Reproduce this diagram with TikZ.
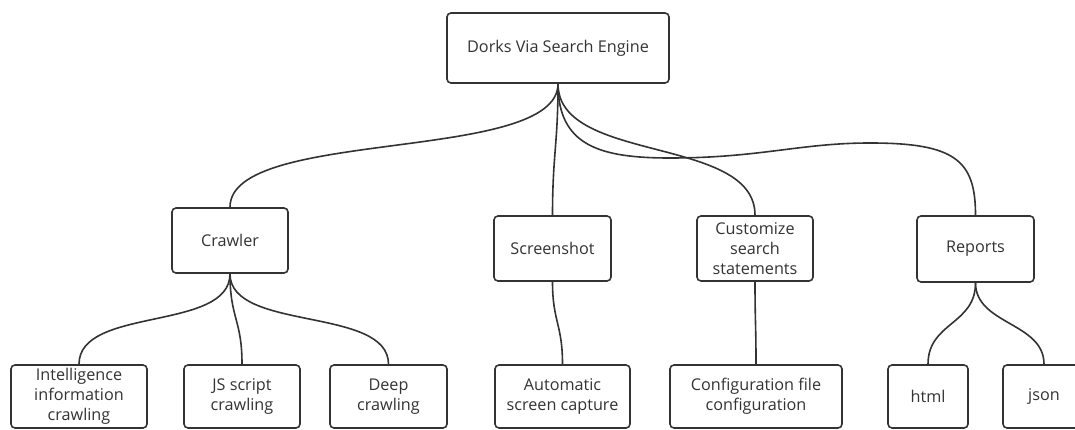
\documentclass[tikz,border=0pt]{standalone}
\usepackage{fontspec}
\setmainfont{Open Sans}
\definecolor{ink}{HTML}{333333}
\tikzset{
    box/.style={draw=ink, line width=1.6pt, rounded corners=4pt, align=center, text=ink,
        inner sep=0pt, font=\fontsize{16.2}{20}\selectfont},
    conn/.style={draw=ink, line width=1.6pt,
        to path={.. controls +(0,#1) and +(0,-#1) .. (\tikztotarget)}},
    conn/.default=50
}
\begin{document}
\begin{tikzpicture}[x=1pt,y=-1pt]
    \useasboundingbox (0,0) rectangle (1075,430);
    \node[box, minimum width=222pt, minimum height=70pt] (root) at (558,48) {Dorks Via Search Engine};
    \node[box, minimum width=116pt, minimum height=65pt] (crawler) at (230,240.5) {Crawler};
    \node[box, minimum width=117pt, minimum height=65pt] (shot) at (552.5,248.5) {Screenshot};
    \node[box, minimum width=116pt, minimum height=65pt] (custom) at (755,248.5) {Customize\\search\\statements};
    \node[box, minimum width=117pt, minimum height=66pt] (reports) at (975.5,249) {Reports};
    \node[box, minimum width=136pt, minimum height=63pt] (intel) at (79,396.5) {Intelligence\\information\\crawling};
    \node[box, minimum width=116pt, minimum height=63pt] (js) at (242,396.5) {JS script\\crawling};
    \node[box, minimum width=117pt, minimum height=63pt] (deep) at (388.5,396.5) {Deep\\crawling};
    \node[box, minimum width=135pt, minimum height=63pt] (capture) at (562.5,396.5) {Automatic\\screen capture};
    \node[box, minimum width=172pt, minimum height=63pt] (config) at (756,396.5) {Configuration file\\configuration};
    \node[box, minimum width=80pt, minimum height=63pt] (html) at (928,396.5) {html};
    \node[box, minimum width=82pt, minimum height=63pt] (json) at (1044,396.5) {json};
    \foreach \a/\b/\h in {root/crawler/80, root/shot/60, root/custom/80, crawler/intel/58, crawler/js/45,
        crawler/deep/58, shot/capture/40, custom/config/40, reports/html/42, reports/json/42}
        \draw[conn=\h] (\a.south) to (\b.north);
    \draw[draw=ink, line width=1.6pt] (root.south) .. controls +(0,62) and +(-70,0) .. (670,158)
        .. controls +(90,0) and +(-70,0) .. (870,143) .. controls +(85,0) and +(0,-55) .. (reports.north);
\end{tikzpicture}
\end{document}
